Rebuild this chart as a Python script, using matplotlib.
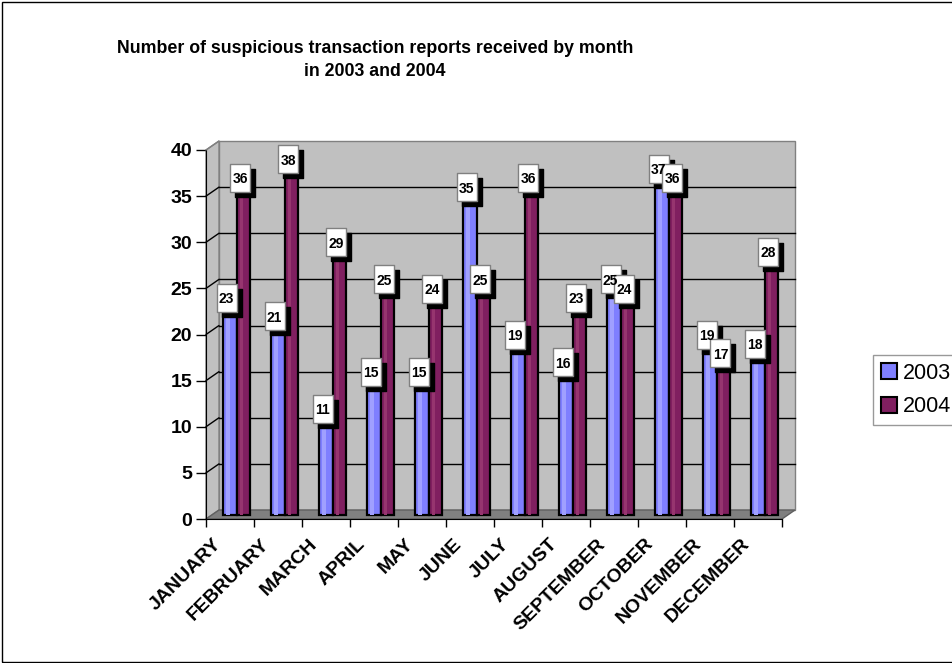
import matplotlib
matplotlib.use("Agg")
import matplotlib.pyplot as plt
import matplotlib.transforms as mtrans
from matplotlib.patches import Polygon, Rectangle, Patch, ConnectionPatch
from matplotlib.path import Path
import numpy as np

plt.rcParams['font.family'] = ['Liberation Sans', 'DejaVu Sans']

months = ["JANUARY", "FEBRUARY", "MARCH", "APRIL", "MAY", "JUNE", "JULY",
          "AUGUST", "SEPTEMBER", "OCTOBER", "NOVEMBER", "DECEMBER"]
reports_2003 = [23, 21, 11, 15, 15, 35, 19, 16, 25, 37, 19, 18]
reports_2004 = [36, 38, 29, 25, 24, 25, 36, 23, 24, 36, 17, 28]
series_names = ["2003", "2004"]
yticks = [0, 5, 10, 15, 20, 25, 30, 35, 40]

col_2003 = '#7f7fff'
col_2004 = '#801f60'
hi_2003 = '#a0a0ff'
hi_2004 = '#96356f'
wall = '#c0c0c0'
floor = '#808080'

W, H = 952, 663
fig = plt.figure(figsize=(W / 100, H / 100), dpi=100)
fig.patch.set_facecolor('white')
# front of the 3d box, in pixels
ax = fig.add_axes([206 / W, 144 / H, 576 / W, 369 / H])
ax.set_xlim(0, 12)
ax.set_ylim(0, 40)
ax.patch.set_visible(False)
for s in ['top', 'right']:
    ax.spines[s].set_visible(False)
ax.spines['left'].set_zorder(6)
ax.spines['bottom'].set_zorder(6)

px = 1 / 100
back = ax.transData + mtrans.ScaledTranslation(13 * px, 9 * px, fig.dpi_scale_trans)
mid = ax.transData + mtrans.ScaledTranslation(6.5 * px, 4.5 * px, fig.dpi_scale_trans)
lab = ax.transData + mtrans.ScaledTranslation(3.5 * px, 9 * px, fig.dpi_scale_trans)
shad = ax.transData + mtrans.ScaledTranslation(8.5 * px, 4 * px, fig.dpi_scale_trans)

# ---- walls and floor ----
ax.add_patch(Rectangle((0, 0), 12, 40, transform=back, facecolor=wall,
                       edgecolor='#808080', lw=1, zorder=0, clip_on=False))
fl = ax.transData.transform([(0, 0), (12, 0)])
bl = back.transform([(12, 0), (0, 0)])
ax.add_patch(Polygon(np.vstack([fl, bl]), closed=True, transform=mtrans.IdentityTransform(),
                     facecolor=floor, edgecolor='#606060', lw=1, zorder=1, clip_on=False))
sf = ax.transData.transform([(0, 0), (0, 40)])
sb = back.transform([(0, 40), (0, 0)])
ax.add_patch(Polygon(np.vstack([sf, sb]), closed=True, transform=mtrans.IdentityTransform(),
                     facecolor=wall, edgecolor='#808080', lw=1, zorder=0, clip_on=False))

for v in yticks[1:]:
    if v < 40:
        ax.plot([0, 12], [v, v], color='black', lw=1, transform=back, zorder=1, clip_on=False)
    cp = ConnectionPatch(xyA=(0, v), coordsA=ax.transData, xyB=(0, v), coordsB=back,
                         color='black' if v < 40 else '#808080', lw=1, zorder=2)
    fig.add_artist(cp)

# ---- bars ----
x = np.arange(12) + 0.5
w = 0.29
for xs, vals, c, hc in [(x - w / 2, reports_2003, col_2003, hi_2003),
                        (x + w / 2, reports_2004, col_2004, hi_2004)]:
    ax.bar(xs, vals, width=w, color=c, edgecolor='black', lw=1.6,
           transform=mid, zorder=3, clip_on=False)
    ax.bar(xs - 0.04, vals, width=0.08, color=hc, lw=0,
           transform=mid, zorder=3.5, clip_on=False)

# ---- value labels ----
box = Path([(-0.37, -0.5), (0.37, -0.5), (0.37, 0.5), (-0.37, 0.5), (-0.37, -0.5)],
           [Path.MOVETO, Path.LINETO, Path.LINETO, Path.LINETO, Path.CLOSEPOLY])
for xs, vals in [(x - w / 2, reports_2003), (x + w / 2, reports_2004)]:
    ax.plot(xs, vals, ls='none', marker=box, ms=19.5, mfc='black', mec='black',
            transform=shad, zorder=4, clip_on=False)
    ax.plot(xs, vals, ls='none', marker=box, ms=19.5, mfc='white', mec='#808080', mew=1,
            transform=lab, zorder=5, clip_on=False)
    for xi, v in zip(xs, vals):
        ax.text(xi, v, str(v), transform=lab, ha='center', va='center_baseline',
                fontsize=10, fontweight='bold', zorder=6, clip_on=False)

# ---- axes ticks ----
ax.set_yticks(yticks)
ax.set_yticklabels([str(v) for v in yticks], fontsize=14, fontweight='bold')
ax.tick_params(axis='y', length=7, width=1, pad=3)
ax.set_xticks(range(13))
ax.set_xticklabels([])
ax.tick_params(axis='x', which='major', length=6, width=1)
ax.set_xticks(x, minor=True)
ax.set_xticklabels(months, minor=True, rotation=45, ha='right', fontsize=14,
                   fontweight='bold')
ax.tick_params(axis='x', which='minor', length=0, pad=12)
shift = mtrans.ScaledTranslation(-5 * px, 0, fig.dpi_scale_trans)
for t in ax.get_xticklabels(minor=True):
    t.set_transform(t.get_transform() + shift)

fig.text(375 / W, 1 - 60 / H, "Number of suspicious transaction reports received by month\nin 2003 and 2004",
         ha='center', va='center', fontsize=12.8, fontweight='bold', linespacing=1.4)

handles = [Patch(facecolor=col_2003, edgecolor='black', lw=1.5),
           Patch(facecolor=col_2004, edgecolor='black', lw=1.5)]
leg = fig.legend(handles, series_names, loc='upper left', bbox_to_anchor=(873 / W, 1 - 355 / H),
                 fontsize=15.5, frameon=True, fancybox=False, handlelength=0.75, handleheight=0.75,
                 handletextpad=0.3, borderpad=0.35, labelspacing=0.6, borderaxespad=0)
leg.get_frame().set_edgecolor('#808080')
leg.get_frame().set_linewidth(1)

# chart border (right side runs off the picture)
fig.add_artist(Rectangle((1.5 / W, 1.5 / H), 1.1, 1 - 3 / H, transform=fig.transFigure,
                         fill=False, edgecolor='black', lw=1))

fig.savefig('out.png', dpi=100)
